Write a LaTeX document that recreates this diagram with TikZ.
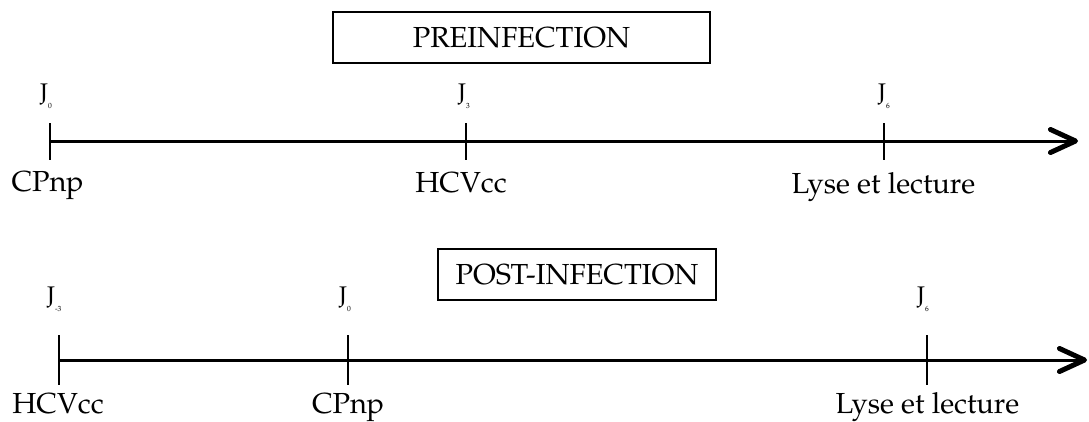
\documentclass[tikz,border=0pt]{standalone}
\usepackage{fontspec}
\setmainfont{TeX Gyre Pagella}
\usetikzlibrary{arrows.meta}
\tikzset{
  axisline/.style={line width=3pt, -{Straight Barb[length=25pt,width=23pt,line width=5pt,round]}},
  tickline/.style={line width=2pt},
  lbl/.style={anchor=base, inner sep=0pt, font=\fontsize{29}{31}\selectfont},
  jlbl/.style={anchor=base west, inner sep=0pt, font=\fontsize{24}{26}\selectfont},
  titlebox/.style={draw, line width=1.5pt, inner sep=0pt, font=\fontsize{29}{31}\selectfont, minimum height=51pt}
}
\newcommand{\Jsub}[1]{J\raisebox{-8pt}{\fontsize{7.5}{7.5}\selectfont #1}}
\begin{document}
\begin{tikzpicture}[x=1pt,y=-1pt]
\useasboundingbox (0,0) rectangle (1089,421);

% ---------- PREINFECTION ----------
\node[titlebox, minimum width=377pt] (t1) at (521.5,37.5) {PREINFECTION};
\coordinate (a1s) at (50,141);
\coordinate (a1e) at (1078,141);
\draw[axisline] (a1s) -- (a1e);
\coordinate (k1at) at (50,123);  \coordinate (k1ab) at (50,160);
\coordinate (k1bt) at (466,123); \coordinate (k1bb) at (466,160);
\coordinate (k1ct) at (884,123); \coordinate (k1cb) at (884,160);
\draw[tickline] (k1at) -- (k1ab);
\draw[tickline] (k1bt) -- (k1bb);
\draw[tickline] (k1ct) -- (k1cb);
\node[jlbl] (j1a) at (40,100) {\Jsub{0}};
\node[jlbl] (j1b) at (458,100) {\Jsub{3}};
\node[jlbl] (j1c) at (878,100) {\Jsub{6}};
\node[lbl] (l1a) at (47.5,191) {CPnp};
\node[lbl] (l1b) at (461,192) {HCVcc};
\node[lbl] (l1c) at (883.5,193) {Lyse et lecture};

% ---------- POST-INFECTION ----------
\node[titlebox, minimum width=278pt] (t2) at (577,274.5) {POST-INFECTION};
\coordinate (a2s) at (59,360);
\coordinate (a2e) at (1087,360);
\draw[axisline] (a2s) -- (a2e);
\coordinate (k2at) at (59,335);  \coordinate (k2ab) at (59,385);
\coordinate (k2bt) at (348,335); \coordinate (k2bb) at (348,385);
\coordinate (k2ct) at (927,335); \coordinate (k2cb) at (927,385);
\draw[tickline] (k2at) -- (k2ab);
\draw[tickline] (k2bt) -- (k2bb);
\draw[tickline] (k2ct) -- (k2cb);
\node[jlbl] (j2a) at (47,303) {\Jsub{-3}};
\node[jlbl] (j2b) at (339,303) {\Jsub{0}};
\node[jlbl] (j2c) at (917,303) {\Jsub{6}};
\node[lbl] (l2a) at (58,413) {HCVcc};
\node[lbl] (l2b) at (348,413) {CPnp};
\node[lbl] (l2c) at (927.5,413) {Lyse et lecture};
\end{tikzpicture}
\end{document}
